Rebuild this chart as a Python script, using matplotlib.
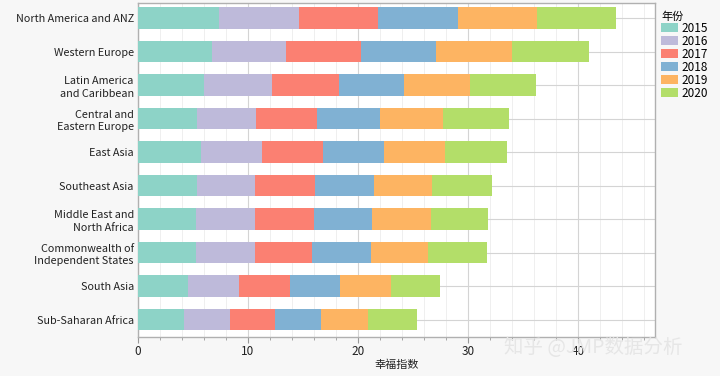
import matplotlib
matplotlib.use("Agg")
import matplotlib.pyplot as plt
from matplotlib.ticker import MultipleLocator
import numpy as np

plt.rcParams['font.family'] = ['Noto Sans CJK SC', 'DejaVu Sans']

regions = ["North America and ANZ", "Western Europe", "Latin America\nand Caribbean",
           "Central and\nEastern Europe", "East Asia", "Southeast Asia",
           "Middle East and\nNorth Africa", "Commonwealth of\nIndependent States",
           "South Asia", "Sub-Saharan Africa"]
years = ["2015", "2016", "2017", "2018", "2019", "2020"]
v2015 = [7.34, 6.73, 6.00, 5.40, 5.73, 5.36, 5.25, 5.25, 4.55, 4.15]
v2016 = [7.26, 6.76, 6.22, 5.36, 5.54, 5.31, 5.42, 5.35, 4.60, 4.19]
v2017 = [7.20, 6.76, 6.03, 5.51, 5.55, 5.43, 5.37, 5.22, 4.64, 4.15]
v2018 = [7.30, 6.81, 5.93, 5.70, 5.52, 5.33, 5.26, 5.33, 4.61, 4.11]
v2019 = [7.20, 6.94, 5.97, 5.76, 5.54, 5.30, 5.30, 5.21, 4.57, 4.30]
v2020 = [7.20, 7.00, 6.03, 5.97, 5.64, 5.42, 5.25, 5.40, 4.46, 4.46]
colors = ["#8dd3c7", "#bebada", "#fb8072", "#80b1d3", "#fdb462", "#b3de69"]

series = [v2015, v2016, v2017, v2018, v2019, v2020]

fig = plt.figure(figsize=(7.2, 3.76), dpi=100, facecolor="#f7f7f7")
ax = fig.add_axes([0.1917, 0.1037, 0.718, 0.888])
ax.set_facecolor("white")

y = np.arange(len(regions))
left = np.zeros(len(regions))
for name, vals, c in zip(years, series, colors):
    ax.barh(y, vals, left=left, height=0.64, color=c, label=name, zorder=3)
    left += np.array(vals)

ax.set_xlim(0, 47)
ax.set_ylim(9.52, -0.45)
ax.set_yticks(y)
ax.set_yticklabels(regions, fontsize=7.8, color="#222222", linespacing=1.3)
ax.xaxis.set_major_locator(MultipleLocator(10))
ax.xaxis.set_minor_locator(MultipleLocator(2))
ax.tick_params(axis='x', which='major', length=4, color="#999999", labelsize=8.5,
               labelcolor="#222222", pad=2)
ax.tick_params(axis='x', which='minor', length=2.5, color="#999999")
ax.tick_params(axis='y', length=0, pad=3)
ax.grid(True, which='major', color="#d4d4d4", lw=0.8, zorder=0)
ax.grid(True, which='minor', axis='x', color="#ececec", lw=0.6, zorder=0)
for s in ax.spines.values():
    s.set_color("#b0b0b0")
    s.set_linewidth(1.0)

ax.set_xlabel("幸福指数", fontsize=8, color="#222222", labelpad=1)

leg = ax.legend(title="年份", loc="upper left", bbox_to_anchor=(1.003, 0.99),
                frameon=False, fontsize=8.5, title_fontsize=8,
                handlelength=1.4, handleheight=0.9, handletextpad=0.3,
                labelspacing=0.0, borderaxespad=0.2, borderpad=0.2)
leg._legend_box.align = "left"

fig.text(0.70, 0.077, "知乎 @JMP数据分析", fontsize=14, color="#e6e6e6",
         ha="left", va="center", zorder=10)

fig.savefig("out.png", dpi=100, facecolor=fig.get_facecolor())
